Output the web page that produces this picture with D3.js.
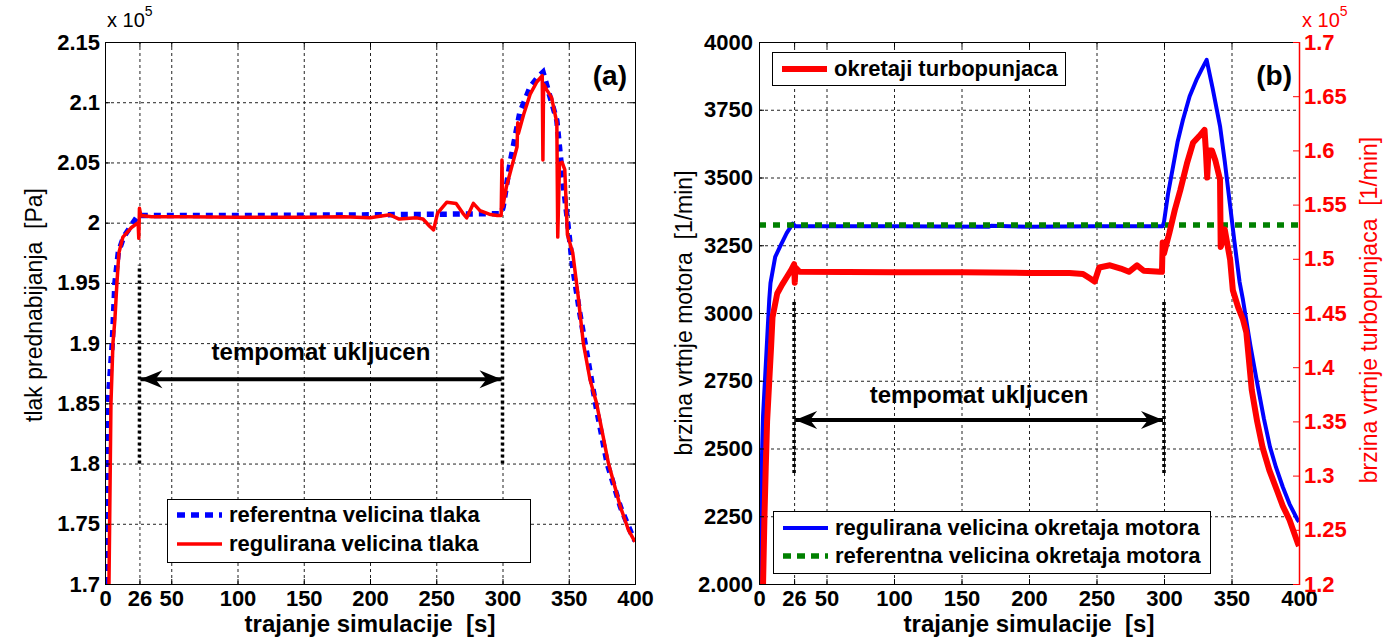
<!DOCTYPE html>
<html>
<head>
<meta charset="utf-8">
<script src="https://cdn.jsdelivr.net/npm/d3@7"></script>
<style>
  html, body { margin: 0; padding: 0; background: #fff; }
  svg { display: block; }
  svg text { white-space: pre; }
</style>
</head>
<body>
<div id="chart"></div>
<script>
// ---- shared x axis (time in s) ----
const timeTicks = [0, 26, 50, 100, 150, 200, 250, 300, 350, 400];
const cruiseOn = 26;
const cruiseOff = 300;

// ---- panel (a): boost pressure, x 10^5 Pa ----
const pressureTicks = [1.7, 1.75, 1.8, 1.85, 1.9, 1.95, 2.0, 2.05, 2.1, 2.15];
const pressureTickLabels = ['1.7', '1.75', '1.8', '1.85', '1.9', '1.95', '2', '2.05', '2.1', '2.15'];
const pressureNames = ['referentna velicina tlaka', 'regulirana velicina tlaka'];

const pressureRef = [
  [0.5, 1.70], [1, 1.80], [2.3, 1.85], [5.5, 1.90], [7.5, 1.95], [10, 1.975], [14, 1.988],
  [20, 1.998], [25, 2.006], [60, 2.006], [120, 2.006], [200, 2.0065], [250, 2.007],
  [299, 2.0075], [300.5, 2.013], [305.6, 2.049], [313, 2.091], [321, 2.113], [326, 2.12],
  [330.6, 2.125], [336, 2.104], [341, 2.085], [343, 2.063], [346, 2.03], [348.7, 2.005],
  [353, 1.963], [358, 1.927], [364.5, 1.886], [371, 1.845], [379, 1.80], [389, 1.764],
  [398, 1.74], [400, 1.736]
];

const pressureReg = [
  [3, 1.70], [3.5, 1.75], [4, 1.80], [4.5, 1.85], [6, 1.90], [7.5, 1.92], [9, 1.95],
  [10.5, 1.975], [13.5, 1.988], [20, 1.996], [25, 2.0], [25.5, 1.987], [26, 2.012],
  [27, 2.006], [35, 2.005], [60, 2.005], [100, 2.0045], [150, 2.0045], [180, 2.005],
  [200, 2.004], [215, 2.0065], [222, 2.003], [235, 2.004], [240, 2.003], [245, 1.997],
  [248, 1.994], [251, 2.008], [258, 2.017], [265, 2.016], [270, 2.008], [273, 2.004],
  [278, 2.016], [283, 2.010], [290, 2.007], [296, 2.006], [299, 2.006], [299.6, 2.052],
  [300.2, 2.013], [303, 2.030], [311, 2.063], [311.5, 2.083], [312, 2.074], [316, 2.09],
  [321, 2.107], [326, 2.117], [330, 2.122], [330.5, 2.052], [331, 2.115], [333.5, 2.110],
  [337, 2.104], [341, 2.083], [341.7, 1.988], [343, 2.049], [345, 2.05], [347, 2.044],
  [349, 1.99], [353, 1.975], [357, 1.94], [361, 1.90], [366, 1.87], [371, 1.85],
  [380, 1.80], [389, 1.764], [395, 1.745], [400, 1.735]
];

// ---- panel (b): engine and turbocharger speed ----
const motorTicks = [2000, 2250, 2500, 2750, 3000, 3250, 3500, 3750, 4000];
const motorTickLabels = ['2.000', '2250', '2500', '2750', '3000', '3250', '3500', '3750', '4000'];
const turboTicks = [1.2, 1.25, 1.3, 1.35, 1.4, 1.45, 1.5, 1.55, 1.6, 1.65, 1.7];
const turboTickLabels = ['1.2', '1.25', '1.3', '1.35', '1.4', '1.45', '1.5', '1.55', '1.6', '1.65', '1.7'];
const motorNames = ['regulirana velicina okretaja motora', 'referentna velicina okretaja motora'];
const turboName = 'okretaji turbopunjaca';

const motorReg = [
  [0, 2000], [1, 2250], [3, 2620], [6, 2900], [7.6, 3050], [8.5, 3110], [12, 3207],
  [15.5, 3244], [20.5, 3295], [25, 3330], [27, 3320], [100, 3320], [170, 3318],
  [172, 3322], [200, 3318], [250, 3320], [299, 3320], [300, 3336], [303, 3440],
  [306.7, 3540], [310, 3630], [314, 3712], [319, 3800], [324, 3860], [328, 3900],
  [331.6, 3934], [336, 3830], [341.5, 3690], [345, 3560], [349, 3395], [352, 3270],
  [356, 3114], [358.5, 3048], [364, 2880], [369, 2742], [374, 2610], [378.5, 2506],
  [383, 2430], [388, 2358], [393, 2295], [399, 2236], [400, 2230]
];

const motorRef = [[0, 3325], [400, 3325]];

const turboSpeed = [
  [3, 1.2], [4, 1.26], [5, 1.308], [6, 1.35], [7.5, 1.385], [9, 1.42], [10, 1.446],
  [13.5, 1.468], [17, 1.476], [20.5, 1.483], [24, 1.49], [26, 1.495], [26.5, 1.478],
  [27, 1.492], [30, 1.488], [100, 1.4875], [150, 1.4875], [200, 1.487], [230, 1.487],
  [240, 1.486], [245, 1.482], [248.6, 1.479], [252, 1.492], [260, 1.494], [268, 1.491],
  [274, 1.488], [280, 1.494], [285, 1.489], [297, 1.488], [298.5, 1.488], [299, 1.515],
  [300, 1.505], [304, 1.524], [308, 1.545], [312, 1.563], [317, 1.588], [321.5, 1.607],
  [326, 1.613], [330, 1.619], [331, 1.60], [332, 1.575], [333, 1.60], [335.5, 1.6],
  [338, 1.591], [341.5, 1.573], [342, 1.511], [343, 1.515], [345, 1.527], [349, 1.499],
  [351, 1.471], [355, 1.455], [358.5, 1.444], [361, 1.432], [365, 1.379], [369, 1.35],
  [373, 1.326], [378, 1.305], [383.5, 1.287], [388, 1.272], [393, 1.259], [399, 1.238],
  [400, 1.235]
];

// ---- layout ----
const FONT = '"Liberation Sans", Arial, Helvetica, sans-serif';
const W = 1397, H = 639;
const TOP = 42, BOTTOM = 584;

const svg = d3.select('#chart').append('svg')
  .attr('width', W)
  .attr('height', H)
  .style('font-family', FONT);

// Arrow head marker (barbed, MATLAB style), drawn pointing along +x
const defs = svg.append('defs');
defs.append('marker')
  .attr('id', 'head')
  .attr('viewBox', '-24 -10 24 20')
  .attr('refX', 0).attr('refY', 0)
  .attr('markerUnits', 'userSpaceOnUse')
  .attr('markerWidth', 24).attr('markerHeight', 20)
  .attr('orient', 'auto-start-reverse')
  .append('path')
  .attr('d', 'M0,0 L-22,-9 L-15,0 L-22,9 Z')
  .attr('fill', '#000');

function addClip(id, x, y) {
  defs.append('clipPath').attr('id', id)
    .append('rect')
    .attr('x', x.range()[0]).attr('y', y.range()[1])
    .attr('width', x.range()[1] - x.range()[0])
    .attr('height', y.range()[0] - y.range()[1]);
}

function drawGrid(g, x, y, xTicks, yTicks) {
  const grid = g.append('g')
    .attr('stroke', '#222')
    .attr('stroke-width', 1)
    .attr('stroke-dasharray', '3,3');
  grid.selectAll(null).data(xTicks).join('line')
    .attr('x1', d => x(d) + 0.5).attr('x2', d => x(d) + 0.5)
    .attr('y1', y.range()[0]).attr('y2', y.range()[1]);
  grid.selectAll(null).data(yTicks).join('line')
    .attr('y1', d => y(d) + 0.5).attr('y2', d => y(d) + 0.5)
    .attr('x1', x.range()[0]).attr('x2', x.range()[1]);
}

function styleAxis(axisG, color) {
  axisG.attr('font-family', FONT)
    .attr('font-size', 22)
    .attr('font-weight', 'bold');
  axisG.select('.domain').remove();
  axisG.selectAll('line').attr('stroke', color);
  axisG.selectAll('text').attr('fill', color);
}

function drawFrame(g, x, y) {
  g.append('rect')
    .attr('x', x.range()[0] + 0.5).attr('y', y.range()[1] + 0.5)
    .attr('width', x.range()[1] - x.range()[0])
    .attr('height', y.range()[0] - y.range()[1])
    .attr('fill', 'none')
    .attr('stroke', '#000')
    .attr('stroke-width', 1);
}

function drawXAxis(g, x, y) {
  const bottom = g.append('g')
    .attr('transform', `translate(0,${y.range()[0]})`)
    .call(d3.axisBottom(x).tickValues(timeTicks).tickFormat(d3.format('d'))
      .tickSize(-5).tickSizeOuter(0).tickPadding(6));
  styleAxis(bottom, '#000');
  const top = g.append('g')
    .attr('transform', `translate(0,${y.range()[1]})`)
    .call(d3.axisTop(x).tickValues(timeTicks).tickFormat('').tickSize(-5).tickSizeOuter(0));
  styleAxis(top, '#000');

  // Axis title
  g.append('text')
    .attr('x', (x.range()[0] + x.range()[1]) / 2)
    .attr('y', 632)
    .attr('text-anchor', 'middle')
    .attr('font-size', 24)
    .attr('font-weight', 'bold')
    .text('trajanje simulacije  [s]');
}

function drawCruise(g, x, y, lo, hi, arrowAt, label, labelY) {
  // Dotted markers at cruise control on/off
  g.selectAll(null).data([cruiseOn, cruiseOff]).join('line')
    .attr('x1', d => x(d)).attr('x2', d => x(d))
    .attr('y1', y(lo)).attr('y2', y(hi))
    .attr('stroke', '#000')
    .attr('stroke-width', 3.5)
    .attr('stroke-dasharray', '3,3');

  // Double headed arrow
  g.append('line')
    .attr('x1', x(cruiseOn) + 1).attr('x2', x(cruiseOff) - 1)
    .attr('y1', y(arrowAt)).attr('y2', y(arrowAt))
    .attr('stroke', '#000')
    .attr('stroke-width', 4)
    .attr('marker-start', 'url(#head)')
    .attr('marker-end', 'url(#head)');

  g.append('text')
    .attr('x', (x(cruiseOn) + x(cruiseOff)) / 2)
    .attr('y', labelY)
    .attr('text-anchor', 'middle')
    .attr('font-size', 24)
    .attr('font-weight', 'bold')
    .text(label);
}

function drawLegend(g, box, entries) {
  g.append('rect')
    .attr('x', box.x + 0.5).attr('y', box.y + 0.5)
    .attr('width', box.w).attr('height', box.h)
    .attr('fill', '#fff')
    .attr('stroke', '#000')
    .attr('stroke-width', 1);
  entries.forEach((e, i) => {
    const cy = box.y + box.first + i * box.step;
    g.append('line')
      .attr('x1', box.x + 10).attr('x2', box.x + 55)
      .attr('y1', cy).attr('y2', cy)
      .attr('stroke', e.color)
      .attr('stroke-width', e.width)
      .attr('stroke-dasharray', e.dash || null);
    g.append('text')
      .attr('x', box.x + 62)
      .attr('y', cy + 7)
      .attr('font-size', 22)
      .attr('font-weight', 'bold')
      .text(e.name);
  });
}

function drawExponent(g, xPos, color) {
  const t = g.append('text')
    .attr('x', xPos).attr('y', 27)
    .attr('font-size', 20)
    .attr('fill', color)
    .text('x 10');
  t.append('tspan')
    .attr('dy', -11)
    .attr('font-size', 14)
    .text('5');
}

// =================== Panel (a) ===================
{
  const x = d3.scaleLinear().domain([0, 400]).range([105, 635]);
  const y = d3.scaleLinear().domain([1.7, 2.15]).range([BOTTOM, TOP]);
  const g = svg.append('g');
  addClip('clipA', x, y);

  drawGrid(g, x, y, timeTicks, pressureTicks);

  const line = d3.line().x(d => x(d[0])).y(d => y(d[1]));
  const plot = g.append('g').attr('clip-path', 'url(#clipA)');
  plot.append('path')
    .datum(pressureRef)
    .attr('d', line)
    .attr('fill', 'none')
    .attr('stroke', '#0000ff')
    .attr('stroke-width', 5.5)
    .attr('stroke-dasharray', '7,6');
  plot.append('path')
    .datum(pressureReg)
    .attr('d', line)
    .attr('fill', 'none')
    .attr('stroke', '#ff0000')
    .attr('stroke-width', 3.5)
    .attr('stroke-linejoin', 'round');

  drawFrame(g, x, y);

  const left = g.append('g')
    .attr('transform', `translate(${x.range()[0]},0)`)
    .call(d3.axisLeft(y).tickValues(pressureTicks)
      .tickFormat((d, i) => pressureTickLabels[i])
      .tickSize(-5).tickSizeOuter(0).tickPadding(5));
  styleAxis(left, '#000');
  const right = g.append('g')
    .attr('transform', `translate(${x.range()[1]},0)`)
    .call(d3.axisRight(y).tickValues(pressureTicks).tickFormat('').tickSize(-5).tickSizeOuter(0));
  styleAxis(right, '#000');
  drawXAxis(g, x, y);

  drawExponent(g, 107, '#000');

  g.append('text')
    .attr('transform', 'translate(42,305) rotate(-90)')
    .attr('text-anchor', 'middle')
    .attr('font-size', 23)
    .text('tlak prednabijanja  [Pa]');

  drawCruise(g, x, y, 1.8, 1.965, 1.87, 'tempomat ukljucen', 360);

  drawLegend(g, { x: 167, y: 499, w: 363, h: 63, first: 16, step: 29 }, [
    { name: pressureNames[0], color: '#0000ff', width: 5.5, dash: '8,6' },
    { name: pressureNames[1], color: '#ff0000', width: 3.5 }
  ]);

  g.append('text')
    .attr('x', 627).attr('y', 85)
    .attr('text-anchor', 'end')
    .attr('font-size', 28)
    .attr('font-weight', 'bold')
    .text('(a)');
}

// =================== Panel (b) ===================
{
  const x = d3.scaleLinear().domain([0, 400]).range([759, 1299]);
  const y = d3.scaleLinear().domain([2000, 4000]).range([BOTTOM, TOP]);
  const yR = d3.scaleLinear().domain([1.2, 1.7]).range([BOTTOM, TOP]);
  const g = svg.append('g');
  addClip('clipB', x, y);

  drawGrid(g, x, y, timeTicks, motorTicks);

  const line = d3.line().x(d => x(d[0])).y(d => y(d[1]));
  const lineR = d3.line().x(d => x(d[0])).y(d => yR(d[1]));
  const plot = g.append('g').attr('clip-path', 'url(#clipB)');
  plot.append('path')
    .datum(motorReg)
    .attr('d', line)
    .attr('fill', 'none')
    .attr('stroke', '#0000ff')
    .attr('stroke-width', 4)
    .attr('stroke-linejoin', 'round');
  plot.append('path')
    .datum(motorRef)
    .attr('d', line)
    .attr('fill', 'none')
    .attr('stroke', '#008000')
    .attr('stroke-width', 5.5)
    .attr('stroke-dasharray', '7,7');
  plot.append('path')
    .datum(turboSpeed)
    .attr('d', lineR)
    .attr('fill', 'none')
    .attr('stroke', '#ff0000')
    .attr('stroke-width', 6)
    .attr('stroke-linejoin', 'round');

  drawFrame(g, x, y);

  const left = g.append('g')
    .attr('transform', `translate(${x.range()[0]},0)`)
    .call(d3.axisLeft(y).tickValues(motorTicks)
      .tickFormat((d, i) => motorTickLabels[i])
      .tickSize(-5).tickSizeOuter(0).tickPadding(6));
  styleAxis(left, '#000');
  drawXAxis(g, x, y);

  // Right (red) axis for turbocharger speed
  g.append('line')
    .attr('x1', x.range()[1] + 0.5).attr('x2', x.range()[1] + 0.5)
    .attr('y1', TOP).attr('y2', BOTTOM + 1)
    .attr('stroke', '#ff0000')
    .attr('stroke-width', 1.5);
  const right = g.append('g')
    .attr('transform', `translate(${x.range()[1]},0)`)
    .call(d3.axisRight(yR).tickValues(turboTicks)
      .tickFormat((d, i) => turboTickLabels[i])
      .tickSize(-6).tickSizeOuter(0).tickPadding(5));
  styleAxis(right, '#ff0000');

  drawExponent(g, 1302, '#ff0000');

  g.append('text')
    .attr('transform', 'translate(692,313) rotate(-90)')
    .attr('text-anchor', 'middle')
    .attr('font-size', 23)
    .text('brzina vrtnje motora  [1/min]');
  g.append('text')
    .attr('transform', 'translate(1377,310) rotate(-90)')
    .attr('text-anchor', 'middle')
    .attr('font-size', 23)
    .attr('fill', '#ff0000')
    .text('brzina vrtnje turbopunjaca  [1/min]');

  drawCruise(g, x, y, 2410, 3050, 2605, 'tempomat ukljucen', 403);

  drawLegend(g, { x: 772, y: 52, w: 293, h: 33, first: 17, step: 0 }, [
    { name: turboName, color: '#ff0000', width: 6 }
  ]);
  drawLegend(g, { x: 773, y: 511, w: 437, h: 62, first: 17, step: 28 }, [
    { name: motorNames[0], color: '#0000ff', width: 4 },
    { name: motorNames[1], color: '#008000', width: 5.5, dash: '8,6' }
  ]);

  g.append('text')
    .attr('x', 1292).attr('y', 85)
    .attr('text-anchor', 'end')
    .attr('font-size', 28)
    .attr('font-weight', 'bold')
    .text('(b)');
}
</script>
</body>
</html>
